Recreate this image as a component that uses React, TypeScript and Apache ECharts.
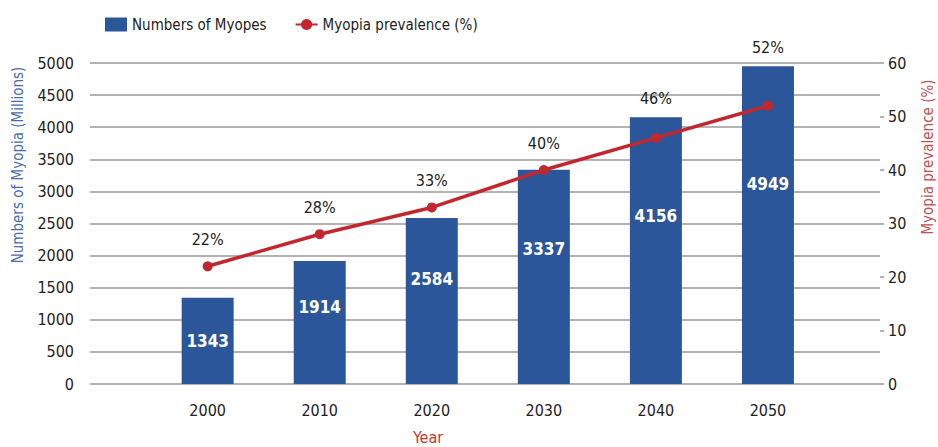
import React, { useEffect, useRef } from "react";
import * as echarts from "echarts";

const years = [2000, 2010, 2020, 2030, 2040, 2050];
const myopes = [1343, 1914, 2584, 3337, 4156, 4949];
const prevalence = [22, 28, 33, 40, 46, 52];

const FONT = "'Liberation Sans Narrow', 'DejaVu Sans Condensed', 'Noto Sans', sans-serif";

export default function App() {
  const ref = useRef<HTMLDivElement>(null);
  useEffect(() => {
    if (!ref.current) return;
    const chart = echarts.init(ref.current, undefined, { renderer: "svg" });
    const barData = years.map((y, i) => ({
      value: [y, myopes[i]],
      label: { position: i === 0 ? "inside" : ["50%", "37%"] },
    }));
    const lineData = years.map((y, i) => [y, prevalence[i]]);
    chart.setOption({
      animation: false,
      textStyle: { fontFamily: FONT },
      legend: {
        top: 12,
        left: 100,
        itemGap: 28,
        itemWidth: 22,
        itemHeight: 14,
        textStyle: { fontFamily: FONT, fontSize: 15, color: "#222" },
        data: [
          { name: "Numbers of Myopes", icon: "rect", itemStyle: { color: "#2b579a" } },
          { name: "Myopia prevalence (%)" },
        ],
      },
      grid: { left: 90, right: 58, top: 63, bottom: 63 },
      xAxis: {
        type: "value",
        min: 1989.5,
        max: 2060,
        splitLine: { show: false },
        axisLine: { show: false },
        axisTick: { show: false },
        axisLabel: {
          margin: 18,
          fontSize: 16,
          color: "#222",
          fontFamily: FONT,
          customValues: years,
          formatter: (v: number) => String(v),
        },
      },
      yAxis: [
        {
          type: "value",
          min: 0,
          max: 5000,
          interval: 500,
          axisLine: { show: false },
          axisTick: { show: false },
          splitLine: { lineStyle: { color: "#9a9a9a", width: 1.5 } },
          axisLabel: {
            margin: 16,
            fontSize: 16,
            color: "#222",
            fontFamily: FONT,
            formatter: (v: number) => String(v),
          },
        },
        {
          type: "value",
          min: 0,
          max: 60,
          interval: 10,
          position: "right",
          axisLine: { show: false },
          axisTick: { show: true, length: 4, lineStyle: { color: "#9a9a9a", width: 1.5 } },
          splitLine: { show: false },
          axisLabel: { margin: 8, fontSize: 16, color: "#222", fontFamily: FONT },
        },
      ],
      graphic: [
        {
          type: "text",
          x: 18,
          y: 165,
          rotation: Math.PI / 2,
          style: {
            text: "Numbers of Myopia (Millions)",
            fill: "#4a6db0",
            font: `15px ${FONT}`,
            textAlign: "center",
            textVerticalAlign: "middle",
          },
        },
        {
          type: "text",
          x: 928,
          y: 157,
          rotation: Math.PI / 2,
          style: {
            text: "Myopia prevalence (%)",
            fill: "#c0504d",
            font: `15px ${FONT}`,
            textAlign: "center",
            textVerticalAlign: "middle",
          },
        },
        {
          type: "text",
          x: 428,
          y: 437,
          style: {
            text: "Year",
            fill: "#c0392b",
            font: `16px ${FONT}`,
            textAlign: "center",
            textVerticalAlign: "middle",
          },
        },
      ],
      series: [
        {
          name: "Numbers of Myopes",
          type: "bar",
          yAxisIndex: 0,
          barWidth: 52,
          itemStyle: { color: "#2b579a" },
          label: {
            show: true,
            color: "#fff",
            fontSize: 17,
            fontWeight: "bold",
            fontFamily: FONT,
            align: "center",
            verticalAlign: "middle",
            formatter: (p: any) => String(p.value[1]),
          },
          data: barData,
          z: 2,
        },
        {
          name: "Myopia prevalence (%)",
          type: "line",
          yAxisIndex: 1,
          symbol: "circle",
          symbolSize: 10,
          lineStyle: { color: "#c1272d", width: 3.5 },
          itemStyle: { color: "#c1272d" },
          label: {
            show: true,
            position: "top",
            distance: 14,
            color: "#222",
            fontSize: 16,
            fontFamily: FONT,
            formatter: (p: any) => `${p.value[1]}%`,
          },
          data: lineData,
          z: 3,
        },
      ],
    });
    // lift prevalence labels above the bar tops where the bar reaches higher than the point
    const adjusted = years.map((y, i) => {
      const pt = chart.convertToPixel({ xAxisIndex: 0, yAxisIndex: 1 }, [y, prevalence[i]]) as number[];
      const bt = chart.convertToPixel({ xAxisIndex: 0, yAxisIndex: 0 }, [y, myopes[i]]) as number[];
      const center = Math.min(pt[1] - 26, bt[1] - 18);
      const dist = 14 + (pt[1] - 26 - center);
      return { value: [y, prevalence[i]], label: { distance: dist } };
    });
    chart.setOption({ series: [{}, { data: adjusted }] });
    return () => chart.dispose();
  }, []);
  return <div ref={ref} style={{ width: 938, height: 447, position: "absolute", left: 0, top: 0 }} />;
}
